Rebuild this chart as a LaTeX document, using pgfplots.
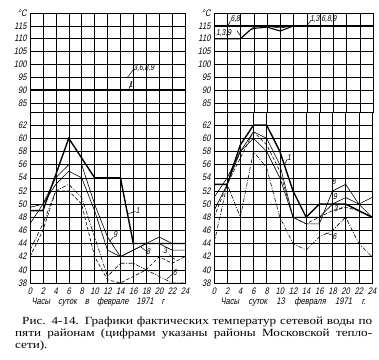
\documentclass[border=0pt]{standalone}
\usepackage{fontspec}
\setmainfont{Liberation Serif}
\newfontfamily\capfont[FakeStretch=1.2]{Liberation Serif}
\newfontfamily\tickfont[FakeStretch=0.8,FakeSlant=0.2]{Liberation Sans}
\usepackage{pgfplots}
\pgfplotsset{compat=1.18}
\newcommand{\lbl}{\tickfont\fontsize{8.5}{9}\selectfont}
\pgfplotsset{
  base/.style={scale only axis, xmin=0, xmax=24, xtick={0,2,...,24},
    grid=major, major grid style={black, line width=0.5pt},
    axis line style={line width=0.8pt}, major tick length=0pt,
    tick label style={font=\tickfont\fontsize{9.5}{10}\selectfont},
    /pgf/number format/assume math mode=true,
    xticklabel style={yshift=-1bp}},
  thick1/.style={black, line width=1.4pt, mark=none},
  thin/.style={black, line width=0.6pt, mark=none},
  dash3/.style={black, line width=0.6pt, dash pattern=on 3.5pt off 2pt, mark=none},
  dd6/.style={black, line width=0.6pt, dash pattern=on 4pt off 1.5pt on 1pt off 1.5pt, mark=none},
}
\begin{document}
\begin{tikzpicture}
\path[use as bounding box] (0,0) rectangle (379bp,-360bp);
% ---------- left upper
\begin{axis}[base, at={(30bp,-13bp)}, anchor=north west, width=155bp, height=99bp,
  ymin=81.5, ymax=120, ytick={85,90,...,120}, yticklabels={85,90,95,100,105,110,115,°C}, xticklabels={}]
\addplot[thick1] coordinates {(0,90) (24,90)};
\addplot[thick1] coordinates {(0,95) (24,95)};
\draw[line width=0.5pt] (axis cs:15.1,95) -- (axis cs:16.1,98.3);
\node[font=\lbl, anchor=west, inner sep=0.5pt] at (axis cs:15.9,98.6) {3,6,8,9};
\draw[line width=0.5pt] (axis cs:15.3,90) -- (axis cs:15.7,93.3);
\node[font=\lbl, anchor=west, inner sep=0.5pt] at (axis cs:15.2,92.2) {1};
\end{axis}
% ---------- left lower
\begin{axis}[base, at={(30bp,-112bp)}, anchor=north west, width=155bp, height=171bp,
  ymin=38, ymax=64, ytick={38,40,...,62}]
\addplot[thick1] coordinates {(0,49) (2,49) (6,60) (10,54) (14,54) (16,44) (24,44)};
\addplot[thin] coordinates {(0,49.5) (2,50) (4,54) (6,56) (8,56) (10,50) (12,45) (14,42) (16,43) (18,44) (20,45) (22,44) (24,44)};
\addplot[thin] coordinates {(0,47) (2,50) (4,53) (6,55) (8,54) (10,49) (12,43) (14,42) (16,43) (18,44) (20,44) (22,43) (24,43)};
\addplot[dash3] coordinates {(0,42) (2,46) (4,52) (6,52) (8,50) (10,42) (12,38.5) (14,38) (16,39) (18,40) (20,42) (22,41) (24,42)};
\addplot[dd6] coordinates {(0,43) (2,47) (4,52) (6,53) (8,51) (10,45) (12,39) (14,41) (16,41) (18,40) (20,39) (22,38) (24,38)};
\draw[line width=0.5pt] (axis cs:15.1,48.5) -- (axis cs:16.3,48.9);
\node[font=\lbl, anchor=west, inner sep=0.5pt] at (axis cs:16.3,49.0) {1};
\draw[line width=0.5pt] (axis cs:12.3,44.3) -- (axis cs:12.9,45.0);
\node[font=\lbl, anchor=west, inner sep=0.5pt] at (axis cs:12.8,45.3) {9};
\draw[line width=0.5pt] (axis cs:17.0,43.6) -- (axis cs:17.9,42.9);
\node[font=\lbl, anchor=west, inner sep=0.5pt] at (axis cs:17.9,42.8) {8};
\draw[line width=0.5pt] (axis cs:21.6,42.3) -- (axis cs:22.4,41.6);
\node[font=\lbl, anchor=west, inner sep=0.5pt] at (axis cs:20.5,43.0) {3};
\draw[line width=0.5pt] (axis cs:21.2,38.6) -- (axis cs:22.0,39.3);
\node[font=\lbl, anchor=west, inner sep=0.5pt] at (axis cs:22.0,39.6) {6};
\end{axis}
% ---------- right upper
\begin{axis}[base, at={(214bp,-13bp)}, anchor=north west, width=159bp, height=99bp,
  ymin=81.5, ymax=120, ytick={85,90,...,120}, yticklabels={85,90,95,100,105,110,115,°C}, xticklabels={}]
\addplot[thick1] coordinates {(0,115) (24,115)};
\addplot[black, line width=1.1pt] coordinates {(0,110) (4,110) (5.5,113.5) (6,114) (8,114.5) (10,113) (12,115) (24,115)};
\addplot[thin] coordinates {(4,110) (6,114.6) (8,114.8) (10,114.2) (12,115)};
\draw[line width=0.5pt] (axis cs:2.1,115) -- (axis cs:2.5,117);
\node[font=\lbl, anchor=west, inner sep=0.5pt] at (axis cs:2.4,117.7) {6,8};
\node[font=\lbl, anchor=west, inner sep=0.5pt] at (axis cs:0.2,112.2) {1,3,9};
\draw[line width=0.5pt] (axis cs:3.5,113) -- (axis cs:4.2,110.3);
\draw[line width=0.5pt] (axis cs:14.0,115) -- (axis cs:14.6,117);
\node[font=\lbl, anchor=west, inner sep=0.5pt] at (axis cs:14.4,117.6) {1,3,6,8,9};
\end{axis}
% ---------- right lower
\begin{axis}[base, at={(214bp,-112bp)}, anchor=north west, width=158bp, height=171bp,
  ymin=38, ymax=64, ytick={38,40,...,62}]
\addplot[thick1] coordinates {(0,53) (2,53) (4,59) (6,62) (8,62) (10,58) (12,52) (14,48) (16,50) (18,50) (20,50) (22,49) (24,48)};
\addplot[thin] coordinates {(0,49) (2,53) (4,58) (6,61) (8,60) (10,56) (12,48) (14,48) (16,48) (18,50) (20,51) (22,50) (24,48)};
\addplot[thin] coordinates {(0,51) (2,54) (4,58) (6,60) (8,58) (10,54) (12,48) (14,47) (16,47) (18,52) (20,53) (22,50) (24,51)};
\addplot[dash3] coordinates {(0,48) (2,53) (4,57) (6,61) (8,59) (10,55) (12,48) (14,47) (16,48) (18,49) (20,49.5) (22,49) (24,48)};
\addplot[dd6] coordinates {(0,44) (2,53) (4,48) (6,58) (8,55.5) (10,48) (12,44) (14,43) (16,45) (18,46) (20,48) (22,44) (24,42)};
\draw[line width=0.5pt] (axis cs:10.7,56) -- (axis cs:11.1,56.8);
\node[font=\lbl, anchor=west, inner sep=0.5pt] at (axis cs:11.0,57.0) {1};
\node[font=\lbl, anchor=west, inner sep=0.5pt] at (axis cs:17.8,53.4) {8};
\node[font=\lbl, anchor=west, inner sep=0.5pt] at (axis cs:18.0,51.1) {9};
\node[font=\lbl, anchor=west, inner sep=0.5pt] at (axis cs:18.1,49.3) {3};
\draw[line width=0.5pt] (axis cs:19.0,49.2) -- (axis cs:19.6,49.6);
\draw[line width=0.5pt] (axis cs:17.0,45.6) -- (axis cs:17.9,45.3);
\node[font=\lbl, anchor=west, inner sep=0.5pt] at (axis cs:17.9,45.1) {6};
\end{axis}
% ---------- x labels
\node[font=\tickfont\fontsize{9.5}{10}\selectfont, inner sep=0] at (98bp,-302bp) {\makebox[133bp][s]{Часы суток в феврале 1971 г}};
\node[font=\tickfont\fontsize{9.5}{10}\selectfont, inner sep=0] at (293bp,-302bp) {\makebox[145bp][s]{Часы суток 13 февраля 1971 г.}};
% ---------- caption
\node[anchor=north west, inner sep=0] at (15bp,-317bp) {\parbox[t]{357bp}{\capfont\fontsize{11}{12}\selectfont\sloppy\setlength\parindent{7bp}\indent Рис. 4-14. Графики фактических температур сетевой воды по\linebreak пяти районам (цифрами указаны районы Московской тепло-\linebreak сети).}};
\end{tikzpicture}
\end{document}
